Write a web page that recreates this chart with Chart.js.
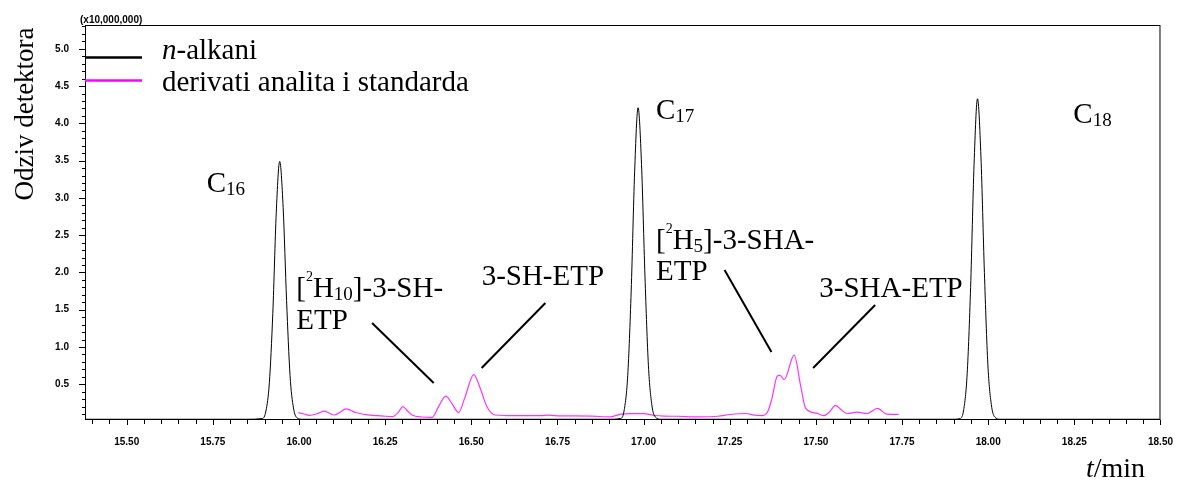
<!DOCTYPE html>
<html>
<head>
<meta charset="utf-8">
<script src="https://cdn.jsdelivr.net/npm/chart.js@4.4.1/dist/chart.umd.min.js"></script>
<style>
  html, body { margin: 0; padding: 0; background: #fff; }
</style>
</head>
<body>
<canvas id="kromatogram" width="1181" height="481"></canvas>
<script>
// n-alkani: vrijeme (min) i odziv (x10,000,000)
const alkTime = [15.379, 15.60, 15.85, 15.894, 15.904, 15.914, 15.924, 15.934, 15.944, 15.954, 15.964, 15.974, 15.984, 15.994, 16.01,
                 16.30, 16.60, 16.90, 16.934, 16.944, 16.954, 16.964, 16.974, 16.984, 16.994, 17.004, 17.014, 17.024, 17.034, 17.05,
                 17.30, 17.60, 17.90, 17.919, 17.929, 17.939, 17.949, 17.959, 17.969, 17.979, 17.989, 17.999, 18.009, 18.019, 18.035,
                 18.30, 18.50];
const alkResp = [0.03, 0.03, 0.03, 0.04, 0.14, 0.52, 1.45, 2.80, 3.49, 2.87, 1.62, 0.62, 0.18, 0.05, 0.03,
                 0.03, 0.03, 0.03, 0.04, 0.16, 0.62, 1.75, 3.35, 4.21, 3.45, 1.95, 0.75, 0.22, 0.06, 0.03,
                 0.03, 0.03, 0.03, 0.04, 0.16, 0.64, 1.80, 3.45, 4.33, 3.55, 2.00, 0.77, 0.23, 0.06, 0.03,
                 0.03, 0.03];

// derivati analita i standarda
const derTime = [15.998, 16.015, 16.030, 16.050, 16.073, 16.088, 16.102, 16.118, 16.136, 16.150, 16.164, 16.190, 16.213, 16.240,
                 16.270, 16.288, 16.301, 16.315, 16.328, 16.357, 16.386, 16.405, 16.426, 16.444, 16.463, 16.482, 16.507, 16.526,
                 16.545, 16.569, 16.600, 16.650, 16.700, 16.723, 16.760, 16.800, 16.850, 16.905, 16.934, 16.960, 17.000, 17.032,
                 17.060, 17.099, 17.157, 17.215, 17.252, 17.297, 17.321, 17.345, 17.360, 17.372, 17.388, 17.396, 17.408, 17.437,
                 17.456, 17.470, 17.504, 17.523, 17.540, 17.557, 17.575, 17.591, 17.620, 17.648, 17.679, 17.706, 17.740];
const derResp = [0.118, 0.10, 0.083, 0.10, 0.14, 0.11, 0.087, 0.12, 0.17, 0.15, 0.12, 0.095, 0.083, 0.075,
                 0.064, 0.12, 0.20, 0.14, 0.087, 0.06, 0.056, 0.20, 0.34, 0.24, 0.12, 0.33, 0.63, 0.445,
                 0.20, 0.087, 0.08, 0.078, 0.078, 0.085, 0.075, 0.075, 0.072, 0.062, 0.10, 0.105, 0.105, 0.08,
                 0.072, 0.07, 0.062, 0.07, 0.094, 0.107, 0.085, 0.08, 0.13, 0.30, 0.61, 0.62, 0.56, 0.89,
                 0.47, 0.18, 0.11, 0.078, 0.13, 0.215, 0.15, 0.107, 0.125, 0.107, 0.175, 0.098, 0.095];

const xTickVals = [15.50, 15.75, 16.00, 16.25, 16.50, 16.75, 17.00, 17.25, 17.50, 17.75, 18.00, 18.25, 18.50];
const yTickVals = [0.5, 1.0, 1.5, 2.0, 2.5, 3.0, 3.5, 4.0, 4.5, 5.0];

const seriesNames = ['n-alkani', 'derivati analita i standarda'];
const seriesColors = ['#000000', '#ff33ff'];

// oznake pikova (u koordinatama podataka); dio: [tekst, 0 normal / 1 indeks / 2 eksponent]
const peakLabels = [
  { t: 15.732, v: 3.08, parts: [['C', 0], ['16', 1]] },
  { t: 17.036, v: 4.06, parts: [['C', 0], ['17', 1]] },
  { t: 18.247, v: 4.00, parts: [['C', 0], ['18', 1]] },
  { t: 15.992, v: 1.67, parts: [['[', 0], ['2', 2], ['H', 0], ['10', 1], [']-3-SH-', 0]] },
  { t: 15.992, v: 1.24, parts: [['ETP', 0]] },
  { t: 16.530, v: 1.83, parts: [['3-SH-ETP', 0]] },
  { t: 17.036, v: 2.31, parts: [['[', 0], ['2', 2], ['H', 0], ['5', 1], [']-3-SHA-', 0]] },
  { t: 17.036, v: 1.90, parts: [['ETP', 0]] },
  { t: 17.510, v: 1.67, parts: [['3-SHA-ETP', 0]] }
];
const leaders = [
  [16.212, 1.321, 16.391, 0.516],
  [16.715, 1.590, 16.530, 0.718],
  [17.235, 2.033, 17.371, 0.932],
  [17.672, 1.563, 17.492, 0.718]
];

const SERIF = '"Liberation Serif", "Times New Roman", serif';

function drawRich(ctx, parts, x, y) {
  for (const [txt, kind] of parts) {
    const size = kind === 0 ? 29 : (kind === 1 ? 19 : 14);
    const dy = kind === 0 ? 0 : (kind === 1 ? 3 : -16);
    ctx.font = size + 'px ' + SERIF;
    ctx.fillText(txt, x, y + dy);
    x += ctx.measureText(txt).width;
  }
}

const decorPlugin = {
  id: 'decor',
  afterDraw(chart) {
    const { ctx, chartArea: a, scales: { x, y } } = chart;
    ctx.save();
    ctx.strokeStyle = '#000';
    ctx.fillStyle = '#000';

    // okvir
    ctx.lineWidth = 1;
    ctx.strokeRect(a.left + 0.5, a.top + 0.5, a.right - a.left - 1, a.bottom - a.top - 1);

    // crtice na osi x (svakih 0.05)
    ctx.beginPath();
    for (let k = 0; k < 70; k++) {
      const v = 15.40 + k * 0.05;
      if (v > 18.5001) break;
      const px = Math.round(x.getPixelForValue(v)) + 0.5;
      const major = Math.abs(v * 4 - Math.round(v * 4)) < 1e-6;
      ctx.moveTo(px, a.bottom);
      ctx.lineTo(px, a.bottom + (major ? 5 : 4));
    }
    // crtice na osi y (svakih 0.1)
    for (let k = 1; k <= 53; k++) {
      const v = k * 0.1;
      const py = Math.round(y.getPixelForValue(v)) + 0.5;
      const major = k % 5 === 0;
      ctx.moveTo(a.left, py);
      ctx.lineTo(a.left - (major ? 6 : 3), py);
    }
    ctx.stroke();

    // faktor skale
    ctx.font = 'bold 10px "Liberation Sans", Arial, sans-serif';
    ctx.textAlign = 'left';
    ctx.textBaseline = 'alphabetic';
    ctx.fillText('(x10,000,000)', 80, 23);

    // legenda
    const legY = [57.5, 80.5];
    const legBase = [59, 91];
    ctx.lineWidth = 2.5;
    seriesColors.forEach((c, i) => {
      ctx.strokeStyle = i === 1 ? '#ff00ff' : c;
      ctx.beginPath();
      ctx.moveTo(a.left, legY[i]);
      ctx.lineTo(142, legY[i]);
      ctx.stroke();
    });
    ctx.font = 'italic 29px ' + SERIF;
    ctx.fillText('n', 162, legBase[0]);
    const nW = ctx.measureText('n').width;
    ctx.font = '29px ' + SERIF;
    ctx.fillText(seriesNames[0].slice(1), 162 + nW, legBase[0]);
    ctx.fillText(seriesNames[1], 162, legBase[1]);

    // naslovi osi
    ctx.save();
    ctx.translate(33, 114);
    ctx.rotate(-Math.PI / 2);
    ctx.textAlign = 'center';
    ctx.font = '27px ' + SERIF;
    ctx.fillText('Odziv detektora', 0, 0);
    ctx.restore();
    ctx.font = 'italic 28px ' + SERIF;
    ctx.fillText('t', 1086, 477);
    const tW = ctx.measureText('t').width;
    ctx.font = '28px ' + SERIF;
    ctx.fillText('/min', 1086 + tW, 477);

    // oznake pikova
    peakLabels.forEach(l => {
      drawRich(ctx, l.parts, x.getPixelForValue(l.t), y.getPixelForValue(l.v));
    });

    // linije do pikova
    ctx.strokeStyle = '#000';
    ctx.lineWidth = 2;
    leaders.forEach(([t1, v1, t2, v2]) => {
      ctx.beginPath();
      ctx.moveTo(x.getPixelForValue(t1), y.getPixelForValue(v1));
      ctx.lineTo(x.getPixelForValue(t2), y.getPixelForValue(v2));
      ctx.stroke();
    });
    ctx.restore();
  }
};

const ctx = document.getElementById('kromatogram').getContext('2d');
window.chromChart = new Chart(ctx, {
  type: 'line',
  data: {
    datasets: [
      {
        label: seriesNames[0],
        data: alkTime.map((t, i) => ({ x: t, y: alkResp[i] })),
        borderColor: seriesColors[0],
        borderWidth: 1,
        pointRadius: 0,
        cubicInterpolationMode: 'monotone'
      },
      {
        label: seriesNames[1],
        data: derTime.map((t, i) => ({ x: t, y: derResp[i] })),
        borderColor: seriesColors[1],
        borderWidth: 1.2,
        pointRadius: 0,
        cubicInterpolationMode: 'monotone'
      }
    ]
  },
  options: {
    responsive: false,
    animation: false,
    devicePixelRatio: 1,
    layout: { padding: { left: 0, top: 25, right: 17, bottom: 0 } },
    scales: {
      x: {
        type: 'linear',
        min: 15.379,
        max: 18.5,
        grid: { display: false },
        border: { display: false },
        afterBuildTicks: s => { s.ticks = xTickVals.map(v => ({ value: v })); },
        afterFit: s => { s.height = 61; },
        ticks: {
          autoSkip: false,
          maxRotation: 0,
          padding: 8,
          color: '#000',
          font: { family: '"Liberation Sans", Arial, sans-serif', size: 10, weight: 'bold' },
          callback: v => Number(v).toFixed(2)
        }
      },
      y: {
        min: 0.02,
        max: 5.32,
        grid: { display: false },
        border: { display: false },
        afterBuildTicks: s => { s.ticks = yTickVals.map(v => ({ value: v })); },
        afterFit: s => { s.width = 85; },
        ticks: {
          padding: 8,
          color: '#000',
          font: { family: '"Liberation Sans", Arial, sans-serif', size: 10, weight: 'bold' },
          callback: v => Number(v).toFixed(1)
        }
      }
    },
    plugins: {
      legend: { display: false },
      tooltip: { enabled: false }
    }
  },
  plugins: [decorPlugin]
});
</script>
</body>
</html>
